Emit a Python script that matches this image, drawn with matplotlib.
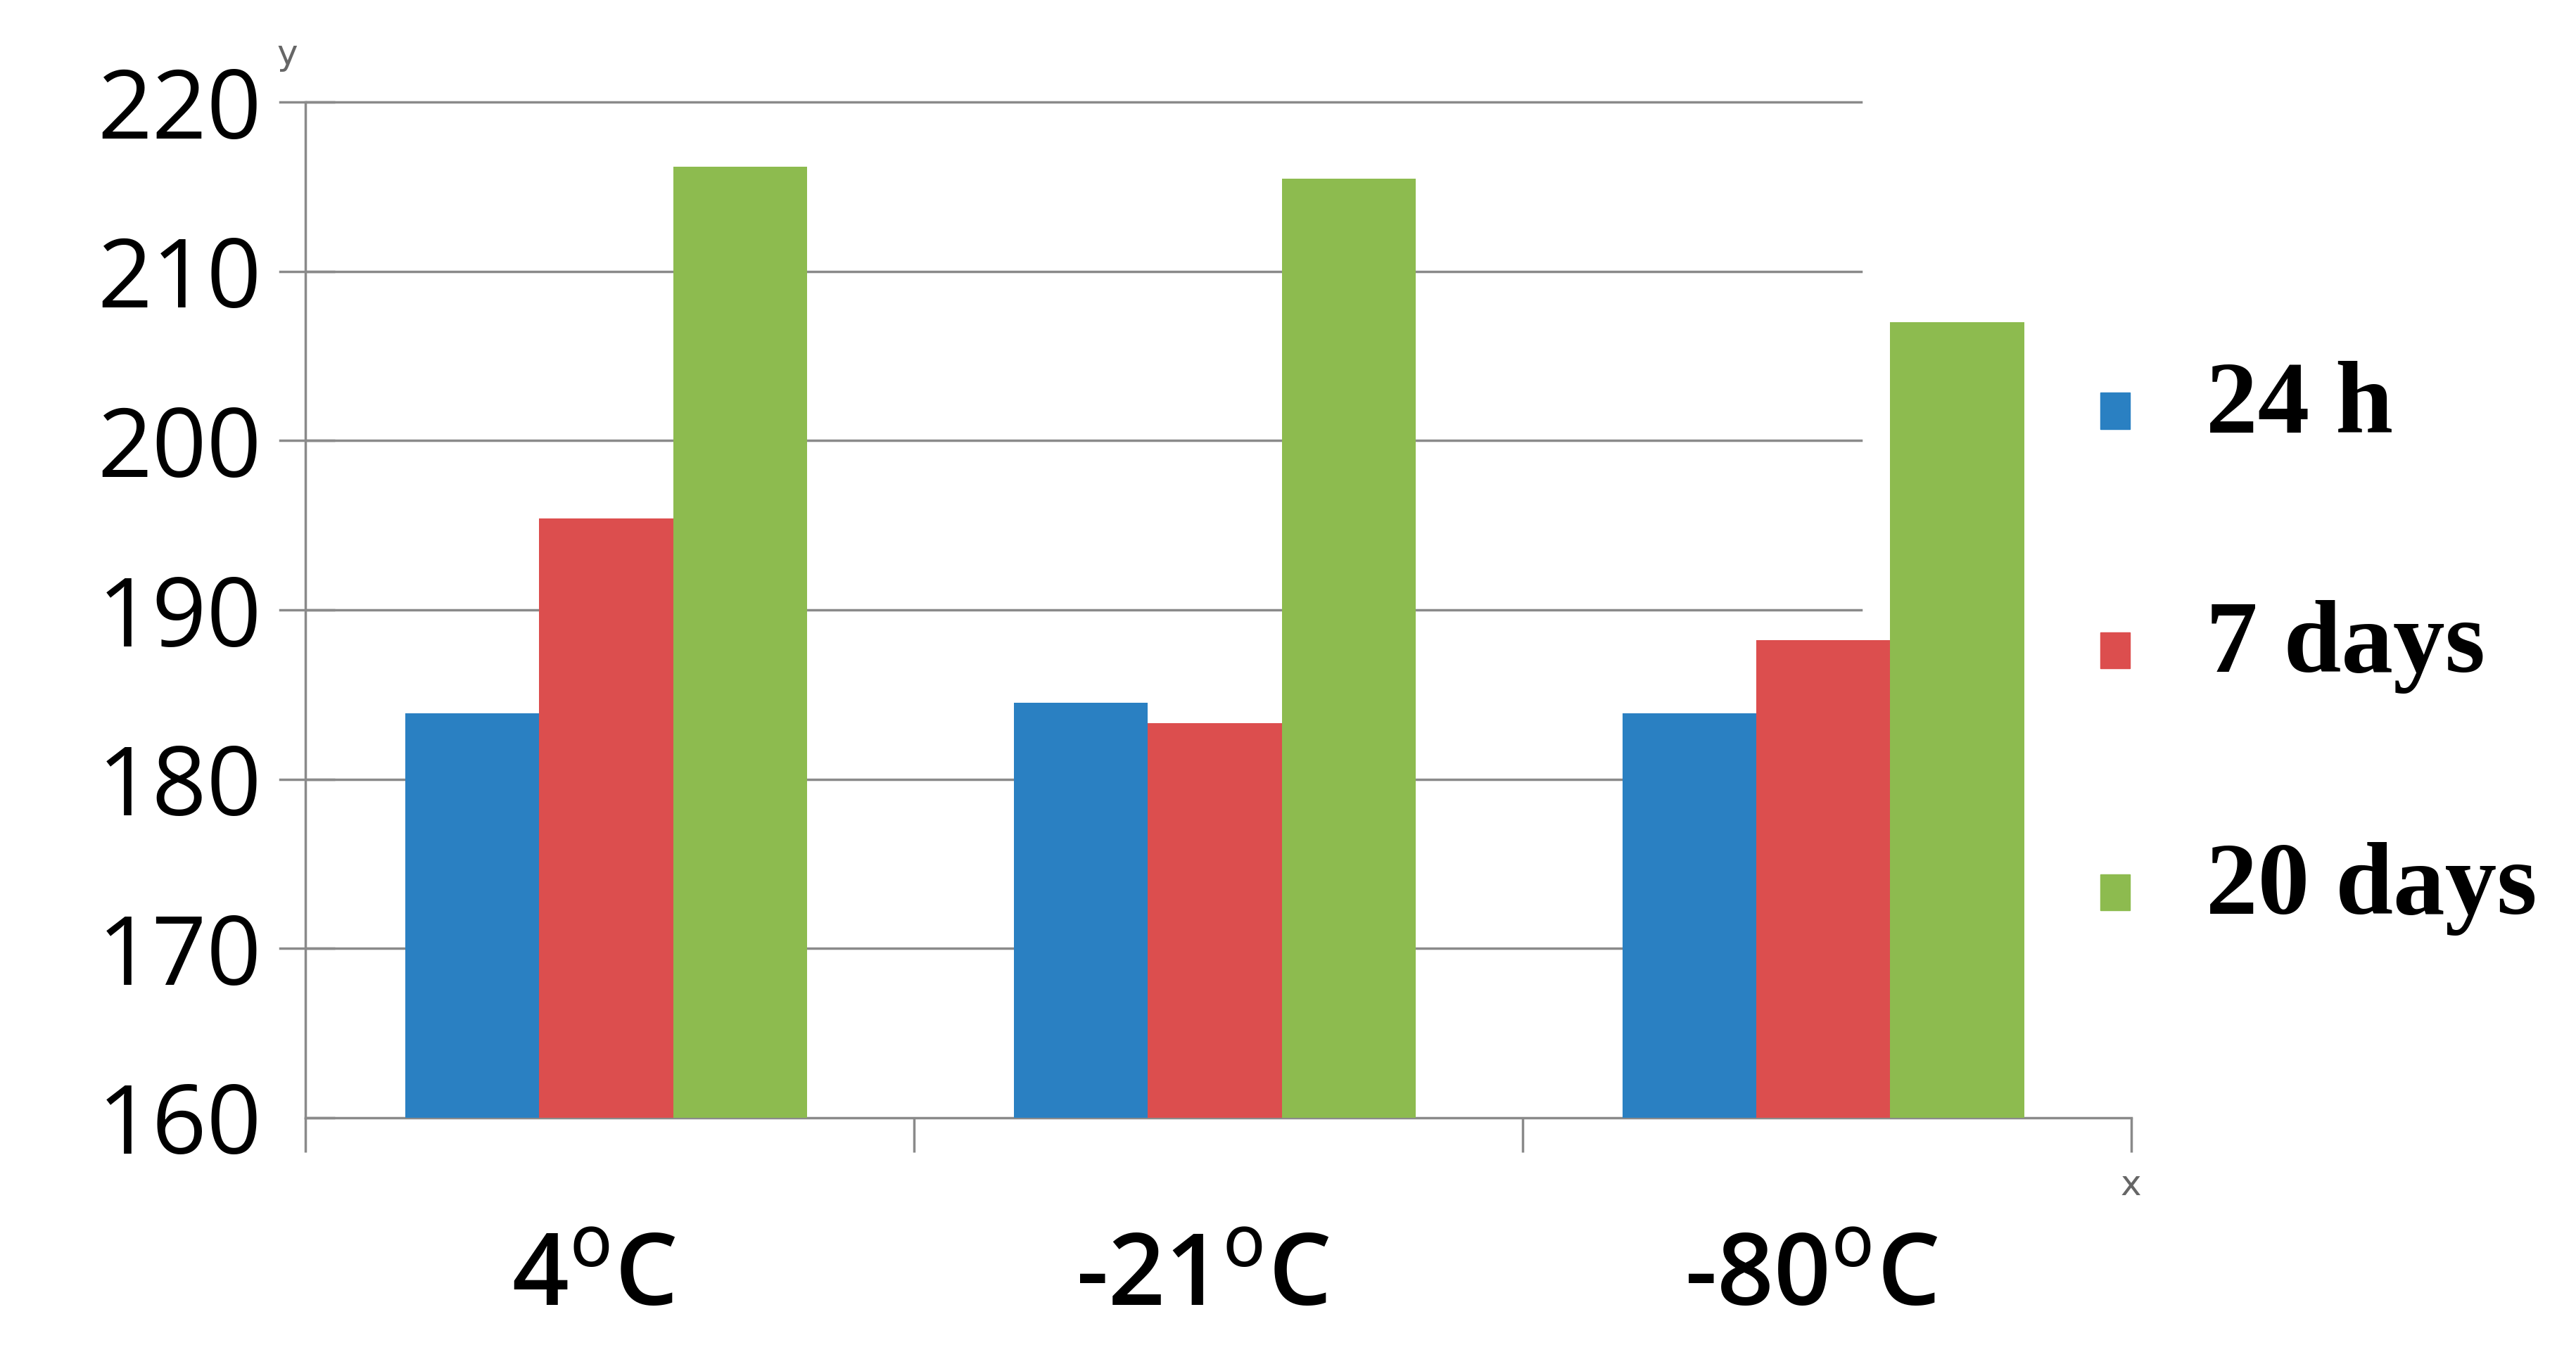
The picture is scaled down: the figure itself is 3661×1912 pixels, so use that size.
import matplotlib
matplotlib.use("Agg")
import matplotlib.pyplot as plt
from matplotlib.patches import Rectangle

categories = ["4$^{\\mathrm{o}}$C", "-21$^{\\mathrm{o}}$C", "-80$^{\\mathrm{o}}$C"]
series_names = ["24 h", "7 days", "20 days"]
v24h = [183.9, 184.5, 183.9]
v7d = [195.4, 183.3, 188.2]
v20d = [216.2, 215.5, 207.0]
yticks = [160, 170, 180, 190, 200, 210, 220]
colors = ["#2a80c2", "#dc4e4e", "#8dbb4f"]

fig = plt.figure(figsize=(36.62, 19.12), dpi=100)
ax = fig.add_axes([0.1186, 0.169, 0.7085, 0.755])
ax.set_xlim(0, 3)
ax.set_ylim(160, 220)
w = 0.22
centers = [0.494, 1.494, 2.494]
for i, vals in enumerate([v24h, v7d, v20d]):
    xs = [c + (i - 1) * w for c in centers]
    ax.bar(xs, [v - 160 for v in vals], bottom=160, width=w, color=colors[i], zorder=3)

for t in yticks[1:]:
    ax.axhline(t, xmin=-0.014, xmax=0.852, color="#8a8a8a", lw=2.5, clip_on=False, zorder=1)

for s in ["top", "right"]:
    ax.spines[s].set_visible(False)
for s in ["left", "bottom"]:
    ax.spines[s].set_color("#8a8a8a")
    ax.spines[s].set_linewidth(2.5)

ax.set_yticks(yticks)
ax.set_yticklabels([str(t) for t in yticks], fontsize=98, family="Open Sans")
ax.tick_params(axis="y", length=30, width=2.5, color="#8a8a8a", pad=45, direction="in")
ax.set_xticks([0, 1, 2, 3])
ax.set_xticklabels([])
ax.tick_params(axis="x", length=35, width=2.5, color="#8a8a8a")
for c, lab in zip(centers, categories):
    ax.text(c - 0.02, -0.11, lab, transform=ax.get_xaxis_transform(), ha="center", va="top",
            fontsize=102, family="Open Sans", fontweight="semibold")

ax.text(-0.01, 1.03, "y", transform=ax.transAxes, fontsize=36, color="#666666", ha="center", va="bottom")
ax.text(1.0, -0.05, "x", transform=ax.transAxes, fontsize=36, color="#666666", ha="center", va="top")

leg_y = [0.697, 0.519, 0.339]
for name, col, yy in zip(series_names, colors, leg_y):
    fig.patches.append(Rectangle((0.815, yy - 0.016), 0.0115, 0.027, transform=fig.transFigure,
                                 color=col, figure=fig))
    fig.text(0.856, yy, name, fontsize=106, fontweight="bold", family="Liberation Serif", va="center")

fig.savefig("out.png", dpi=100, facecolor="white")
